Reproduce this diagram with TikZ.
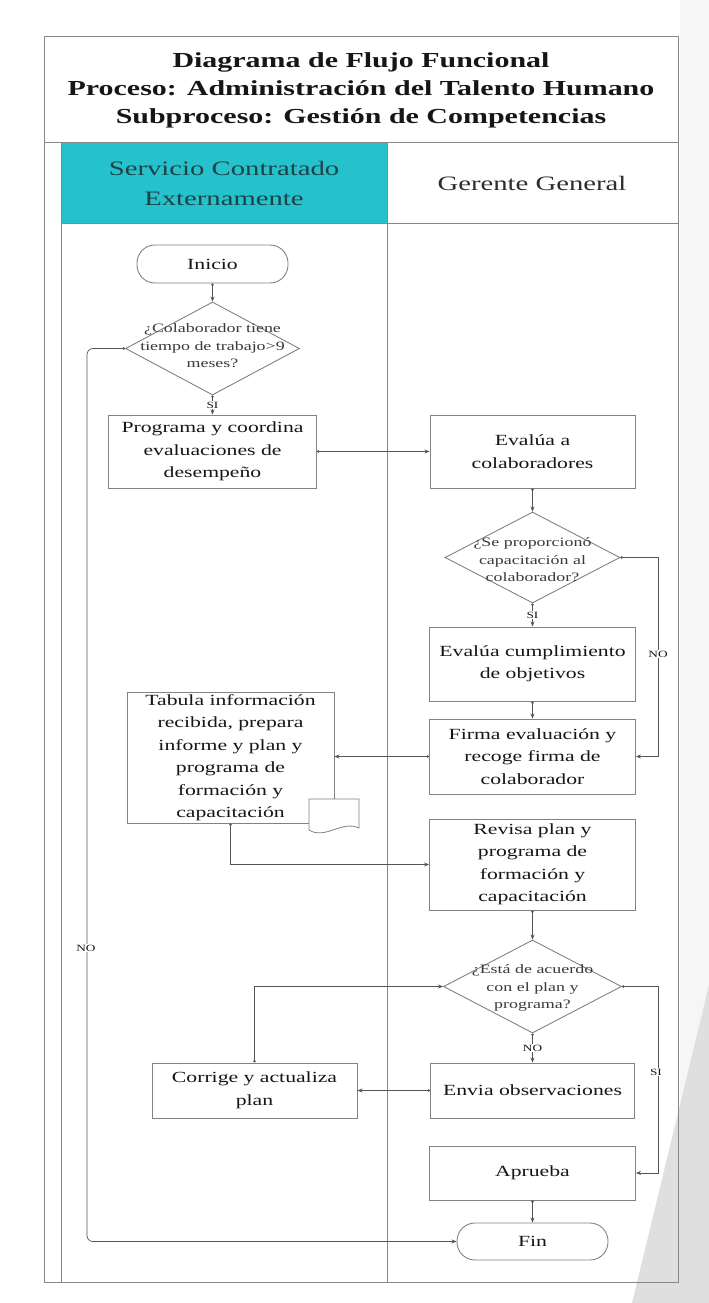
\documentclass[tikz,border=0pt]{standalone}
\usepackage{fontspec}
\setmainfont{Liberation Serif}[FakeStretch=1.4]
\usetikzlibrary{shapes.geometric,arrows.meta}
\definecolor{lanecyan}{RGB}{38,194,204}
\definecolor{tealtext}{RGB}{28,66,72}
\definecolor{framec}{RGB}{135,135,135}
\definecolor{boxc}{RGB}{130,130,130}
\definecolor{linec}{RGB}{85,85,85}
\definecolor{txt}{RGB}{22,22,22}
\begin{document}
\begin{tikzpicture}[x=1pt,y=-1pt,
 procbox/.style={draw=boxc, line width=0.9pt, fill=white, rectangle, inner sep=0pt, align=center, text=txt, font=\fontsize{15.5}{22.5}\selectfont},
 term/.style={procbox, rounded corners=18pt},
 decis/.style={draw=boxc, line width=0.9pt, diamond, fill=white, inner sep=0pt},
 dtext/.style={align=center, text=txt!85, font=\fontsize{12.8}{17.5}\selectfont, inner sep=0pt},
 lbl/.style={font=\fontsize{9.5}{11}\selectfont, text=txt, inner sep=1pt},
 flow/.style={draw=linec, line width=0.7pt, {Circle[length=2.6pt]}-{Stealth[length=5pt,width=4pt]}},
 frame/.style={draw=framec, line width=1pt},
]
\useasboundingbox (0,0) rectangle (709,1303);
% background slide edge
\fill[gray!7] (680,0) rectangle (709,1303);
\fill[gray!25] (709,985) -- (709,1303) -- (632,1303) -- cycle;

% frame and lanes
\fill[lanecyan] (61,142) rectangle (387,223);
\draw[frame] (44,37) rectangle (678,1282);
\draw[frame] (44,142) -- (678,142);
\draw[frame] (61,223) -- (678,223);
\draw[frame] (61,142) -- (61,1282);
\draw[frame] (387,142) -- (387,1282);

% title and headers
\node[align=center, text=txt, font=\fontsize{21.4}{28}\selectfont\bfseries] (title) at (361,90)
  {Diagrama de Flujo Funcional\\Proceso: Administración del Talento Humano\\Subproceso: Gestión de Competencias};
\node[align=center, text=tealtext, font=\fontsize{20.5}{30}\selectfont] (lane1) at (224,183)
  {Servicio Contratado\\Externamente};
\node[align=center, text=txt!90, font=\fontsize{20.5}{30}\selectfont] (lane2) at (532,183)
  {Gerente General};

% left lane nodes
\node[term, minimum width=151, minimum height=38] (inicio) at (212.5,264) {Inicio};
\node[decis, minimum width=174, minimum height=93] (d1) at (212.5,348.5) {};
\node[dtext] (d1t) at (212.5,346) {¿Colaborador tiene\\tiempo de trabajo>9\\meses?};
\node[procbox, minimum width=208, minimum height=73] (prog) at (212.5,451.5)
  {Programa y coordina\\evaluaciones de\\desempeño};

% right lane nodes
\node[procbox, minimum width=205, minimum height=73] (eval) at (532.5,451.5)
  {Evalúa a\\colaboradores};
\node[decis, minimum width=175, minimum height=91] (d2) at (532.5,557.5) {};
\node[dtext] (d2t) at (532.5,560) {¿Se proporcionó\\capacitación al\\colaborador?};
\node[procbox, minimum width=206, minimum height=74] (cumpl) at (532.5,664)
  {Evalúa cumplimiento\\de objetivos};
\node[procbox, minimum width=206, minimum height=75] (firma) at (532.5,756.5)
  {Firma evaluación y\\recoge firma de\\colaborador};
\node[procbox, minimum width=207, minimum height=131] (tabula) at (230.5,757.5)
  {Tabula información\\recibida, prepara\\informe y plan y\\programa de\\formación y\\capacitación};
\draw[boxc, line width=0.8pt, fill=white] (309,830) -- (309,799) -- (359,799) -- (359,828)
  .. controls (342,820) and (325,840) .. (309,830) -- cycle;
\node[procbox, minimum width=206, minimum height=91] (revisa) at (532.5,864.5)
  {Revisa plan y\\programa de\\formación y\\capacitación};
\node[decis, minimum width=178, minimum height=93] (d3) at (532.5,986.5) {};
\node[dtext] (d3t) at (532.5,988) {¿Está de acuerdo\\con el plan y\\programa?};
\node[procbox, minimum width=204, minimum height=55] (envia) at (532.5,1090.5)
  {Envia observaciones};
\node[procbox, minimum width=205, minimum height=55] (corrige) at (254.5,1090.5)
  {Corrige y actualiza\\plan};
\node[procbox, minimum width=206, minimum height=54] (aprueba) at (532.5,1173)
  {Aprueba};
\node[term, minimum width=151, minimum height=37] (fin) at (532.5,1241.5) {Fin};

% helper coordinates
\coordinate (nl) at (87,0);
\coordinate (rr) at (658,0);

% connectors
\draw[flow] (inicio.south) -- (d1.north);
\draw[flow] (d1.south) -- (prog.north);
\draw[flow] (prog.east) -- (eval.west);
\draw[flow] (eval.south) -- (d2.north);
\draw[flow] (d2.south) -- (cumpl.north);
\draw[flow] (d2.east) -- (d2.east -| rr) -- (firma.east -| rr) -- (firma.east);
\draw[flow] (cumpl.south) -- (firma.north);
\draw[flow] (firma.west) -- (firma.west -| tabula.east);
\draw[flow] (tabula.south) |- (revisa.west);
\draw[flow] (revisa.south) -- (d3.north);
\draw[flow] (d3.south) -- (envia.north);
\draw[flow] (envia.west) -- (corrige.east);
\draw[flow] (corrige.north) |- (d3.west);
\draw[flow] (d3.east) -- (d3.east -| rr) -- (aprueba.east -| rr) -- (aprueba.east);
\draw[flow] (aprueba.south) -- (fin.north);
\draw[flow, rounded corners=6pt] (d1.west) -- (d1.west -| nl) -- (fin.west -| nl) -- (fin.west);

% labels
\node[lbl, fill=white] (si1) at (212.5,405) {SI};
\node[lbl, fill=white] (si2) at (532.5,615) {SI};
\node[lbl, fill=white] (no2) at (658,654) {NO};
\node[lbl, fill=white] (no3) at (532.5,1048) {NO};
\node[lbl, fill=white] (si3) at (656,1072) {SI};
\node[lbl, fill=white] (no1) at (86,948) {NO};
\end{tikzpicture}
\end{document}
